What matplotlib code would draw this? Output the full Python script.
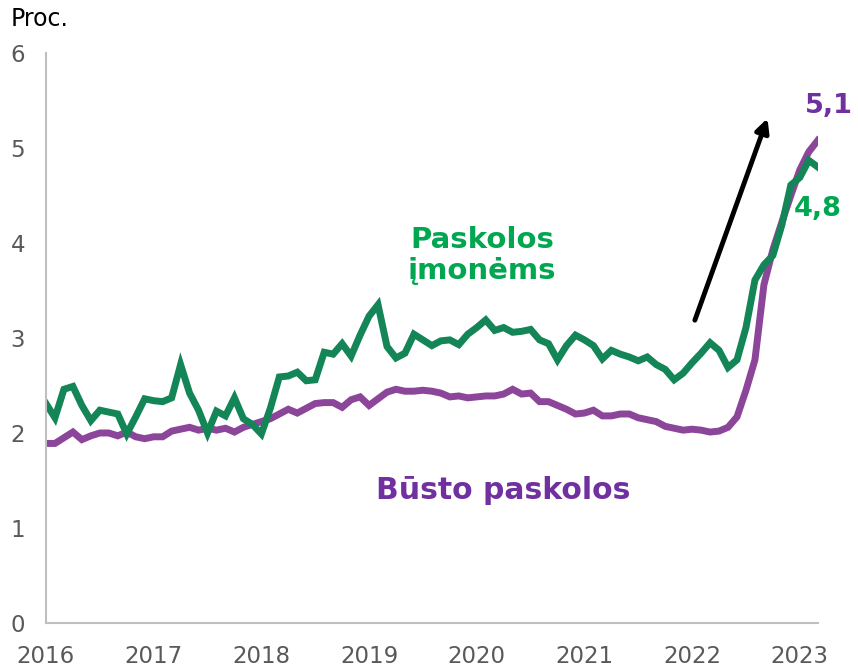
import matplotlib.pyplot as plt
import numpy as np

# menesiniai duomenys nuo 2016-01 iki 2023-03
metai = ['2016', '2017', '2018', '2019', '2020', '2021', '2022', '2023']

imonems = [2.31, 2.16, 2.46, 2.49, 2.29, 2.13, 2.24, 2.22, 2.20, 1.99, 2.17, 2.36,
           2.34, 2.33, 2.37, 2.72, 2.42, 2.24, 2.00, 2.23, 2.18, 2.37, 2.15, 2.09,
           1.99, 2.26, 2.59, 2.60, 2.64, 2.55, 2.56, 2.85, 2.83, 2.94, 2.81, 3.03,
           3.23, 3.35, 2.91, 2.79, 2.84, 3.04, 2.98, 2.92, 2.97, 2.98, 2.93, 3.04,
           3.11, 3.19, 3.08, 3.11, 3.06, 3.07, 3.09, 2.98, 2.94, 2.77, 2.92, 3.03,
           2.98, 2.92, 2.78, 2.87, 2.83, 2.80, 2.76, 2.80, 2.72, 2.67, 2.56, 2.63,
           2.74, 2.84, 2.95, 2.87, 2.69, 2.77, 3.11, 3.61, 3.77, 3.87, 4.19, 4.61,
           4.69, 4.87, 4.80]

busto = [1.89, 1.89, 1.95, 2.01, 1.93, 1.97, 2.00, 2.00, 1.97, 2.01, 1.96, 1.94,
         1.96, 1.96, 2.02, 2.04, 2.06, 2.03, 2.05, 2.03, 2.05, 2.01, 2.06, 2.09,
         2.12, 2.15, 2.20, 2.25, 2.21, 2.26, 2.31, 2.32, 2.32, 2.27, 2.35, 2.38,
         2.29, 2.36, 2.43, 2.46, 2.44, 2.44, 2.45, 2.44, 2.42, 2.38, 2.39, 2.37,
         2.38, 2.39, 2.39, 2.41, 2.46, 2.41, 2.42, 2.33, 2.33, 2.29, 2.25, 2.20,
         2.21, 2.24, 2.18, 2.18, 2.20, 2.20, 2.16, 2.14, 2.12, 2.07, 2.05, 2.03,
         2.04, 2.03, 2.01, 2.02, 2.06, 2.17, 2.45, 2.77, 3.56, 3.93, 4.22, 4.50,
         4.77, 4.96, 5.08]

x = np.arange(len(imonems))

fig = plt.figure(figsize=(8.58, 6.67), dpi=100)
ax = fig.add_axes([0.0536, 0.066, 0.8995, 0.8545])

ax.plot(x, busto, color='#8B4599', lw=5, solid_joinstyle='miter')
ax.plot(x, imonems, color='#138556', lw=5, solid_joinstyle='miter')

ax.set_xlim(0, len(x) - 1)
ax.set_ylim(0, 6)
ax.set_yticks(range(7))
ax.set_xticks(range(0, len(x), 12))
ax.set_xticklabels(metai)

for s in ['top', 'right']:
    ax.spines[s].set_visible(False)
for s in ['left', 'bottom']:
    ax.spines[s].set_color('#BFBFBF')
    ax.spines[s].set_linewidth(1.5)

ax.tick_params(length=0, labelsize=16.5, colors='#595959')
ax.tick_params(axis='y', pad=15)
ax.tick_params(axis='x', pad=16)

fig.text(0.012, 0.972, 'Proc.', fontsize=17, color='black', va='center')

ax.text(48.6, 3.87, 'Paskolos\nįmonėms', color='#00A650', fontsize=21,
        fontweight='bold', ha='center', va='center', linespacing=1.15)
ax.text(51.0, 1.39, 'Būsto paskolos', color='#7030A0', fontsize=21.5,
        fontweight='bold', ha='center', va='center')
ax.text(87.3, 5.44, '5,1', color='#7030A0', fontsize=19.5, fontweight='bold',
        ha='center', va='center', clip_on=False)
ax.text(86.0, 4.36, '4,8', color='#00A650', fontsize=19.5, fontweight='bold',
        ha='center', va='center', clip_on=False)

ax.annotate('', xy=(80.5, 5.34), xytext=(72.2, 3.16),
            arrowprops=dict(arrowstyle='-|>', color='black', lw=3.5,
                            mutation_scale=20))

fig.savefig('out.png', dpi=100)
